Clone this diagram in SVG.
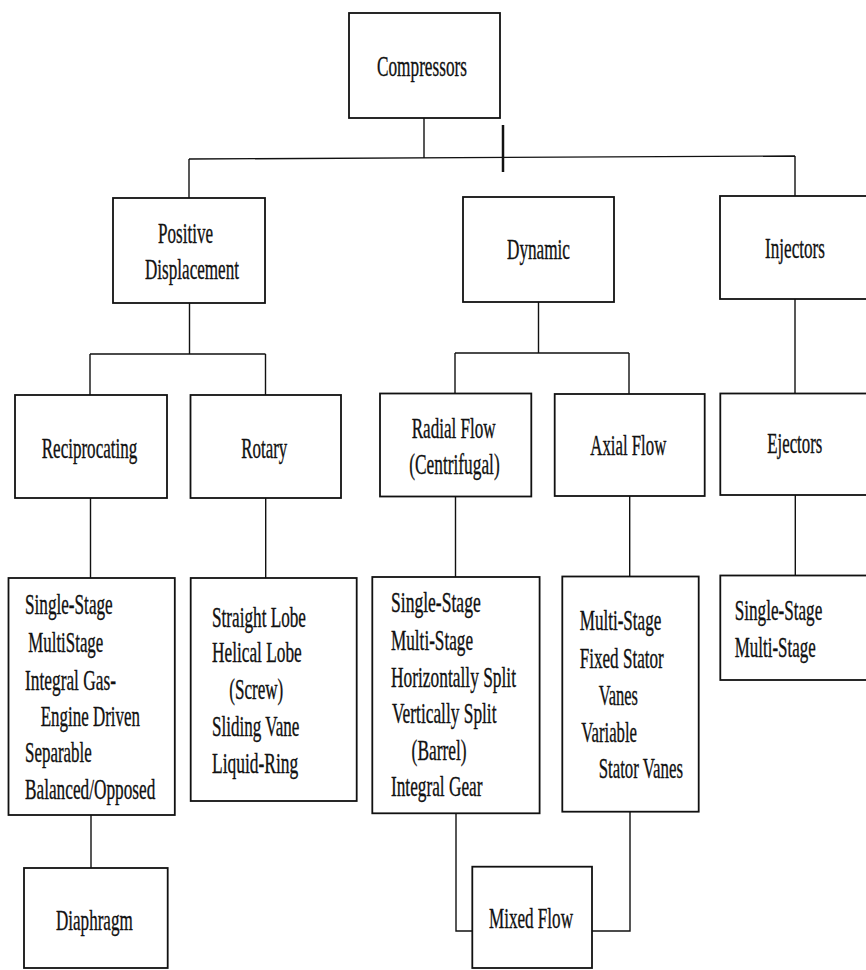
<svg xmlns="http://www.w3.org/2000/svg" width="866" height="970" viewBox="0 0 866 970">
<style>
.box{fill:#fff;stroke:#111;stroke-width:1.8}
.c{fill:none;stroke:#111;stroke-width:1.4}
text{font-family:"Liberation Serif","Times New Roman",serif;font-size:28.5px;fill:#111;stroke:#111;stroke-width:0.35}
</style>
<rect width="866" height="970" fill="#fff"/>
<g id="connectors">
<path class="c" d="M424 118 V158"/>
<path class="c" d="M189 159 L795 156"/>
<path class="c" d="M189 159 V198"/>
<path class="c" d="M795 156 V196"/>
<path class="c" d="M503 125 V172" style="stroke-width:2.5"/>
<path class="c" d="M189.5 303 V354 M90 354 H265.5 M90 354 V395 M265.5 354 V395"/>
<path class="c" d="M538.5 302 V353 M455 353 H629 M455 353 V393.5 M629 353 V394"/>
<path class="c" d="M795 299 V393.5"/>
<path class="c" d="M90.5 498 V578 M265.7 498 V578 M455.5 496.5 V577 M629.7 496 V576.5 M795.3 495 V575.5"/>
<path class="c" d="M91 815 V868"/>
<path class="c" d="M456 813 V931 H472.5"/>
<path class="c" d="M630 811.5 V931 H592"/>
</g>
<g id="compressors">
<rect class="box" x="349" y="13" width="151" height="105"/>
<text x="377" y="76" textLength="90" lengthAdjust="spacingAndGlyphs">Compressors</text>
</g>
<g id="positive-displacement">
<rect class="box" x="113" y="198" width="152" height="105"/>
<text x="158" y="243" textLength="55" lengthAdjust="spacingAndGlyphs">Positive</text>
<text x="145" y="279" textLength="94" lengthAdjust="spacingAndGlyphs">Displacement</text>
</g>
<g id="dynamic">
<rect class="box" x="463" y="197" width="151" height="105"/>
<text x="507" y="259" textLength="63" lengthAdjust="spacingAndGlyphs">Dynamic</text>
</g>
<g id="injectors">
<rect class="box" x="720" y="196" width="160" height="103"/>
<text x="765" y="258" textLength="60" lengthAdjust="spacingAndGlyphs">Injectors</text>
</g>
<g id="reciprocating">
<rect class="box" x="15" y="395" width="152" height="103"/>
<text x="41.7" y="458" textLength="95.6" lengthAdjust="spacingAndGlyphs">Reciprocating</text>
</g>
<g id="rotary">
<rect class="box" x="190.5" y="395" width="150.5" height="103"/>
<text x="241.3" y="458" textLength="46" lengthAdjust="spacingAndGlyphs">Rotary</text>
</g>
<g id="radial-flow">
<rect class="box" x="380" y="393.5" width="151.3" height="103"/>
<text x="411.7" y="438.3" textLength="84" lengthAdjust="spacingAndGlyphs">Radial Flow</text>
<text x="409.3" y="474.3" textLength="90.4" lengthAdjust="spacingAndGlyphs">(Centrifugal)</text>
</g>
<g id="axial-flow">
<rect class="box" x="554.7" y="394" width="150" height="102"/>
<text x="590.3" y="455" textLength="76" lengthAdjust="spacingAndGlyphs">Axial Flow</text>
</g>
<g id="ejectors">
<rect class="box" x="720.3" y="393.5" width="160" height="101.5"/>
<text x="767.3" y="453.3" textLength="55" lengthAdjust="spacingAndGlyphs">Ejectors</text>
</g>
<g id="reciprocating-types">
<rect class="box" x="8.5" y="578" width="166.3" height="237"/>
<text x="25" y="614" textLength="87.7" lengthAdjust="spacingAndGlyphs">Single-Stage</text>
<text x="28.3" y="652" textLength="75" lengthAdjust="spacingAndGlyphs">MultiStage</text>
<text x="25" y="690" textLength="91" lengthAdjust="spacingAndGlyphs">Integral Gas-</text>
<text x="40.7" y="726" textLength="99.3" lengthAdjust="spacingAndGlyphs">Engine Driven</text>
<text x="25" y="762" textLength="66.7" lengthAdjust="spacingAndGlyphs">Separable</text>
<text x="25" y="799" textLength="130.3" lengthAdjust="spacingAndGlyphs">Balanced/Opposed</text>
</g>
<g id="rotary-types">
<rect class="box" x="190.7" y="578" width="166" height="223"/>
<text x="212" y="626.7" textLength="94" lengthAdjust="spacingAndGlyphs">Straight Lobe</text>
<text x="212" y="661.7" textLength="89.7" lengthAdjust="spacingAndGlyphs">Helical Lobe</text>
<text x="229.3" y="699" textLength="54" lengthAdjust="spacingAndGlyphs">(Screw)</text>
<text x="212" y="735.7" textLength="87.3" lengthAdjust="spacingAndGlyphs">Sliding Vane</text>
<text x="212" y="772.7" textLength="86.3" lengthAdjust="spacingAndGlyphs">Liquid-Ring</text>
</g>
<g id="radial-types">
<rect class="box" x="372.3" y="577" width="167.3" height="236.3"/>
<text x="391" y="611.7" textLength="89.7" lengthAdjust="spacingAndGlyphs">Single-Stage</text>
<text x="391" y="650" textLength="82" lengthAdjust="spacingAndGlyphs">Multi-Stage</text>
<text x="391" y="686.7" textLength="125" lengthAdjust="spacingAndGlyphs">Horizontally Split</text>
<text x="392" y="723.3" textLength="104.5" lengthAdjust="spacingAndGlyphs">Vertically Split</text>
<text x="411.6" y="760" textLength="55" lengthAdjust="spacingAndGlyphs">(Barrel)</text>
<text x="391" y="796" textLength="91.5" lengthAdjust="spacingAndGlyphs">Integral Gear</text>
</g>
<g id="axial-types">
<rect class="box" x="562.3" y="576.5" width="136.4" height="235.2"/>
<text x="579.7" y="630" textLength="81.6" lengthAdjust="spacingAndGlyphs">Multi-Stage</text>
<text x="579.7" y="667.7" textLength="84" lengthAdjust="spacingAndGlyphs">Fixed Stator</text>
<text x="598.7" y="705" textLength="39.3" lengthAdjust="spacingAndGlyphs">Vanes</text>
<text x="581.3" y="741.7" textLength="55.7" lengthAdjust="spacingAndGlyphs">Variable</text>
<text x="598.7" y="778.3" textLength="84.3" lengthAdjust="spacingAndGlyphs">Stator Vanes</text>
</g>
<g id="ejector-types">
<rect class="box" x="720.3" y="575.5" width="160" height="104.5"/>
<text x="734.7" y="620" textLength="87.6" lengthAdjust="spacingAndGlyphs">Single-Stage</text>
<text x="734.7" y="656.7" textLength="81" lengthAdjust="spacingAndGlyphs">Multi-Stage</text>
</g>
<g id="diaphragm">
<rect class="box" x="24" y="868" width="143.7" height="100"/>
<text x="56" y="930" textLength="76.7" lengthAdjust="spacingAndGlyphs">Diaphragm</text>
</g>
<g id="mixed-flow">
<rect class="box" x="472.3" y="866.7" width="119.7" height="101.3"/>
<text x="489" y="928.3" textLength="84" lengthAdjust="spacingAndGlyphs">Mixed Flow</text>
</g>
</svg>
